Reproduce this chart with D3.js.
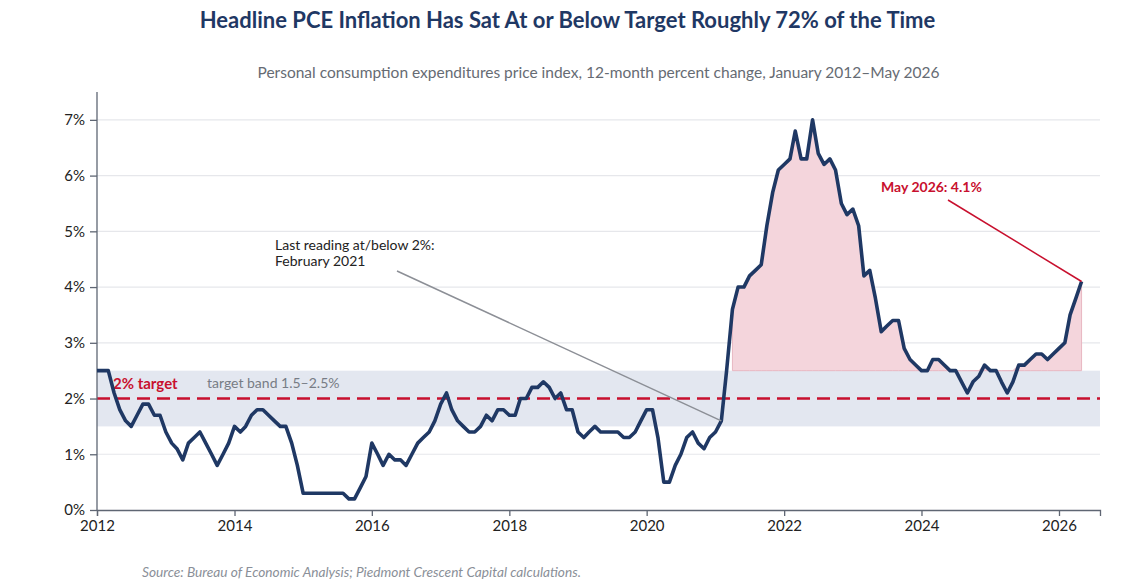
<!DOCTYPE html>
<html>
<head>
<meta charset="utf-8">
<script src="https://cdn.jsdelivr.net/npm/d3@7"></script>
<style>
  body { margin: 0; background: #fff; }
  svg { font-family: Lato, "Noto Sans", sans-serif; }
</style>
</head>
<body>
<div id="chart"></div>
<script>
// monthly 12-month % change, Jan 2012 .. May 2026
var startYear = 2012;
var pce2012 = [2.5, 2.5, 2.5, 2.1, 1.8, 1.6, 1.5, 1.7, 1.9, 1.9, 1.7, 1.7];
var pce2013 = [1.4, 1.2, 1.1, 0.9, 1.2, 1.3, 1.4, 1.2, 1.0, 0.8, 1.0, 1.2];
var pce2014 = [1.5, 1.4, 1.5, 1.7, 1.8, 1.8, 1.7, 1.6, 1.5, 1.5, 1.2, 0.8];
var pce2015 = [0.3, 0.3, 0.3, 0.3, 0.3, 0.3, 0.3, 0.3, 0.2, 0.2, 0.4, 0.6];
var pce2016 = [1.2, 1.0, 0.8, 1.0, 0.9, 0.9, 0.8, 1.0, 1.2, 1.3, 1.4, 1.6];
var pce2017 = [1.9, 2.1, 1.8, 1.6, 1.5, 1.4, 1.4, 1.5, 1.7, 1.6, 1.8, 1.8];
var pce2018 = [1.7, 1.7, 2.0, 2.0, 2.2, 2.2, 2.3, 2.2, 2.0, 2.1, 1.8, 1.8];
var pce2019 = [1.4, 1.3, 1.4, 1.5, 1.4, 1.4, 1.4, 1.4, 1.3, 1.3, 1.4, 1.6];
var pce2020 = [1.8, 1.8, 1.3, 0.5, 0.5, 0.8, 1.0, 1.3, 1.4, 1.2, 1.1, 1.3];
var pce2021 = [1.4, 1.6, 2.5, 3.6, 4.0, 4.0, 4.2, 4.3, 4.4, 5.1, 5.7, 6.1];
var pce2022 = [6.2, 6.3, 6.8, 6.3, 6.3, 7.0, 6.4, 6.2, 6.3, 6.1, 5.5, 5.3];
var pce2023 = [5.4, 5.1, 4.2, 4.3, 3.8, 3.2, 3.3, 3.4, 3.4, 2.9, 2.7, 2.6];
var pce2024 = [2.5, 2.5, 2.7, 2.7, 2.6, 2.5, 2.5, 2.3, 2.1, 2.3, 2.4, 2.6];
var pce2025 = [2.5, 2.5, 2.3, 2.1, 2.3, 2.6, 2.6, 2.7, 2.8, 2.8, 2.7, 2.8];
var pce2026 = [2.9, 3.0, 3.5, 3.8, 4.1];

var yTicks = [0, 1, 2, 3, 4, 5, 6, 7];
var target = 2;
var bandLow = 1.5, bandHigh = 2.5;

var title = "Headline PCE Inflation Has Sat At or Below Target Roughly 72% of the Time";
var subtitle = "Personal consumption expenditures price index, 12-month percent change, January 2012\u2013May 2026";
var source = "Source: Bureau of Economic Analysis; Piedmont Crescent Capital calculations.";

function init(){
    var w = 1135, h = 579;
    var left = 97, right = 1100, top = 92, bottom = 510;
    var navy = "#1f3864", red = "#c8102e";

    var values = [].concat(pce2012, pce2013, pce2014, pce2015, pce2016, pce2017, pce2018,
                           pce2019, pce2020, pce2021, pce2022, pce2023, pce2024, pce2025, pce2026);
    var data = values.map(function(v, i){
        return { date: new Date(startYear, i, 1), value: v };
    });

    var svg = d3.select("#chart").append("svg")
        .attr("width", w)
        .attr("height", h);

    var x = d3.scaleTime()
        .domain([new Date(2012, 0, 1), new Date(2026, 7, 7)])
        .range([left, right]);

    var y = d3.scaleLinear()
        .domain([0, 7.5])
        .range([bottom, top]);

    // titles
    svg.append("text")
        .attr("x", w / 2).attr("y", 28)
        .attr("text-anchor", "middle")
        .style("font-size", "22px").style("font-weight", "bold")
        .style("fill", navy)
        .text(title);

    svg.append("text")
        .attr("x", (left + right) / 2).attr("y", 78)
        .attr("text-anchor", "middle")
        .style("font-size", "15.5px")
        .style("fill", "#666b73")
        .text(subtitle);

    // gridlines
    svg.append("g").selectAll("line")
        .data(yTicks.filter(function(d){ return d > 0; }))
        .enter().append("line")
        .attr("x1", left).attr("x2", right)
        .attr("y1", function(d){ return y(d); })
        .attr("y2", function(d){ return y(d); })
        .style("stroke", "#e6e7eb").style("stroke-width", 1.2);

    // target band
    svg.append("rect")
        .attr("x", left).attr("width", right - left)
        .attr("y", y(bandHigh))
        .attr("height", y(bandLow) - y(bandHigh))
        .style("fill", "#e3e7f0");

    // shaded overshoot area since April 2021
    var overshoot = data.filter(function(d){ return d.date >= new Date(2021, 3, 1); });
    var area = d3.area()
        .x(function(d){ return x(d.date); })
        .y0(y(bandHigh))
        .y1(function(d){ return y(Math.max(d.value, bandHigh)); });
    svg.append("path")
        .datum(overshoot)
        .attr("d", area)
        .style("fill", "#f4d5dc")
        .style("stroke", "#e8b7c2")
        .style("stroke-width", 1);

    // 2% target line
    svg.append("line")
        .attr("x1", left).attr("x2", right)
        .attr("y1", y(target)).attr("y2", y(target))
        .style("stroke", red).style("stroke-width", 2.5)
        .style("stroke-dasharray", "13,7");

    svg.append("text")
        .attr("x", 113).attr("y", 389)
        .style("font-size", "15px").style("font-weight", "bold")
        .style("fill", red)
        .text("2% target");

    svg.append("text")
        .attr("x", 207).attr("y", 388)
        .style("font-size", "14px")
        .style("fill", "#777c85")
        .text("target band 1.5\u20132.5%");

    // axes
    var yAxis = d3.axisLeft(y)
        .tickValues(yTicks)
        .tickSize(7)
        .tickPadding(5)
        .tickFormat(function(d){ return d + "%"; });
    var gy = svg.append("g")
        .attr("transform", "translate(" + left + ",0)")
        .call(yAxis);
    gy.select(".domain").attr("d", "M0," + top + "V" + bottom);

    var xAxis = d3.axisBottom(x)
        .ticks(d3.timeYear.every(2))
        .tickSize(6)
        .tickPadding(4)
        .tickFormat(d3.timeFormat("%Y"));
    var gx = svg.append("g")
        .attr("transform", "translate(0," + bottom + ")")
        .call(xAxis);

    [gx, gy].forEach(function(g){
        g.select(".domain").style("stroke", "#5f6673").style("stroke-width", 1.3);
        g.selectAll(".tick line").style("stroke", "#5f6673").style("stroke-width", 1.3);
        g.selectAll("text").style("font-size", "15px").style("fill", "#222")
            .style("font-family", "Lato, 'Noto Sans', sans-serif");
    });

    // main line
    var line = d3.line()
        .x(function(d){ return x(d.date); })
        .y(function(d){ return y(d.value); });
    svg.append("path")
        .datum(data)
        .attr("d", line)
        .style("fill", "none")
        .style("stroke", navy)
        .style("stroke-width", 3.6)
        .style("stroke-linejoin", "round");

    // annotation: last reading at/below 2%
    var lastLow = data.filter(function(d){ return d.value <= target; }).pop();
    svg.append("line")
        .attr("x1", 397).attr("y1", 271)
        .attr("x2", x(lastLow.date)).attr("y2", y(lastLow.value))
        .style("stroke", "#8c8f96").style("stroke-width", 1.5);
    var note = svg.append("text")
        .attr("x", 275).attr("y", 250)
        .style("font-size", "14px").style("fill", "#222");
    note.append("tspan").attr("x", 275).text("Last reading at/below 2%:");
    note.append("tspan").attr("x", 275).attr("dy", 16).text("February 2021");

    // annotation: latest value
    var last = data[data.length - 1];
    svg.append("line")
        .attr("x1", 948).attr("y1", 200)
        .attr("x2", x(last.date)).attr("y2", y(last.value))
        .style("stroke", red).style("stroke-width", 1.5);
    svg.append("text")
        .attr("x", 881).attr("y", 192)
        .style("font-size", "14px").style("font-weight", "bold")
        .style("fill", red)
        .text("May 2026: " + last.value.toFixed(1) + "%");

    // source
    svg.append("text")
        .attr("x", 142).attr("y", 577)
        .style("font-size", "13.7px").style("font-style", "italic")
        .style("fill", "#8a8f98")
        .text(source);
}
window.onload = init;
</script>
</body>
</html>
